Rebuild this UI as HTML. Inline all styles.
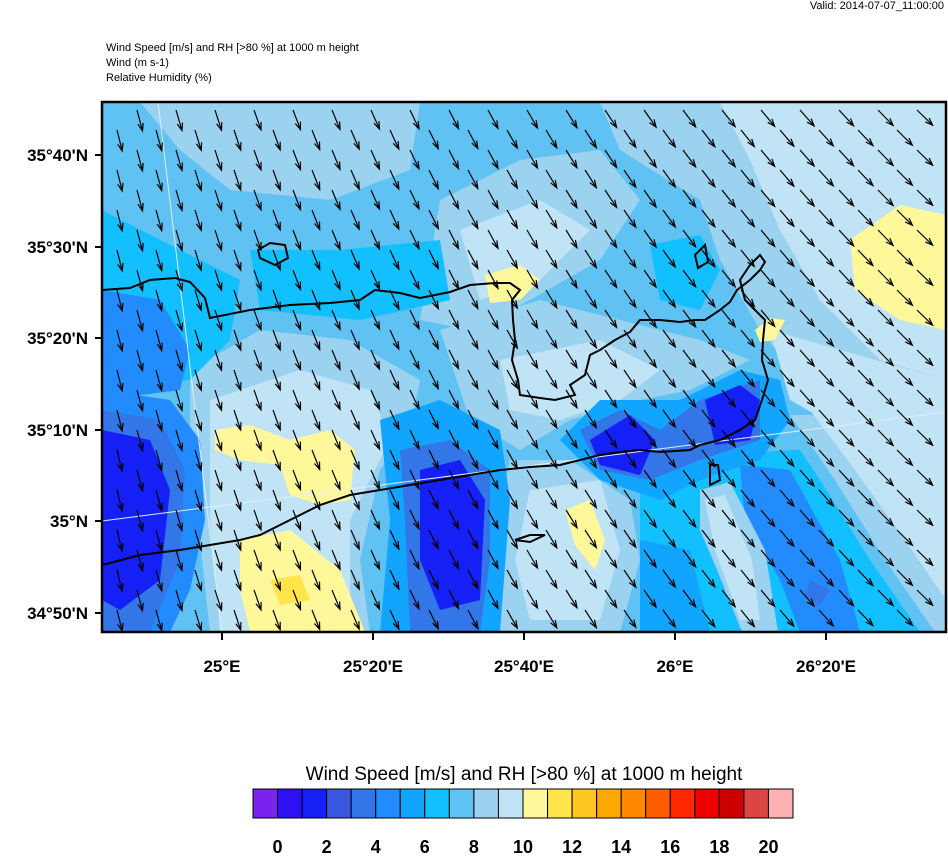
<!DOCTYPE html>
<html><head><meta charset="utf-8"><style>
body{margin:0;background:#fff;}
svg text{font-family:"Liberation Sans",sans-serif;}
</style></head><body>
<svg id="s" width="948" height="854" viewBox="0 0 948 854" xmlns="http://www.w3.org/2000/svg">
<defs><clipPath id="c"><rect x="102" y="102" width="844" height="530"/></clipPath></defs>
<text x="944" y="9" font-size="11" text-anchor="end">Valid: 2014-07-07_11:00:00</text>
<text x="106" y="51" font-size="11">Wind Speed [m/s] and RH [&gt;80 %] at 1000 m height</text>
<text x="106" y="66" font-size="11">Wind   (m s-1)</text>
<text x="106" y="81" font-size="11">Relative Humidity   (%)</text>
<g clip-path="url(#c)">
<rect x="102" y="102" width="844" height="530" fill="#60C2F2"/>
<path d="M140,102 L420,102 L410,170 L330,200 L230,190 L180,150Z" fill="#9BD2F0"/>
<path d="M600,102 L946,102 L946,440 L880,430 L800,380 L760,330 L720,260 L700,200 L620,150Z" fill="#9BD2F0"/>
<path d="M720,102 L946,102 L946,380 L880,360 L820,300 L780,230 L750,160Z" fill="#C0E4F5"/>
<path d="M440,200 L520,160 L600,150 L640,200 L600,260 L530,300 L470,330 L420,320 L430,260Z" fill="#9BD2F0"/>
<path d="M460,230 L540,200 L590,230 L540,280 L480,300Z" fill="#C0E4F5"/>
<path d="M190,370 L260,330 L350,340 L420,380 L410,430 L380,470 L360,560 L370,632 L210,632 L200,540 L190,450Z" fill="#9BD2F0"/>
<path d="M210,400 L300,370 L370,390 L390,440 L350,520 L350,632 L220,632 L210,520Z" fill="#C0E4F5"/>
<path d="M440,330 L540,300 L620,320 L700,340 L750,360 L690,390 L640,400 L570,420 L520,450 L470,420Z" fill="#9BD2F0"/>
<path d="M500,360 L600,340 L660,370 L620,400 L560,420 L510,410Z" fill="#C0E4F5"/>
<path d="M510,460 L570,460 L630,500 L640,560 L620,632 L500,632 L490,560Z" fill="#9BD2F0"/>
<path d="M530,490 L600,480 L620,550 L600,620 L530,620 L515,560Z" fill="#C0E4F5"/>
<path d="M770,330 L946,380 L946,460 L860,440 L790,400Z" fill="#C0E4F5"/>
<path d="M102,210 L180,250 L240,280 L230,340 L190,380 L102,390Z" fill="#12BFFF"/>
<path d="M250,250 L340,250 L440,240 L450,300 L360,320 L260,310Z" fill="#12BFFF"/>
<path d="M650,245 L700,235 L720,270 L700,310 L660,300Z" fill="#12BFFF"/>
<path d="M102,290 L160,300 L190,350 L180,390 L102,400Z" fill="#228CFF"/>
<path d="M102,390 L170,400 L200,440 L205,520 L190,590 L170,632 L102,632Z" fill="#228CFF"/>
<path d="M102,410 L160,420 L185,470 L180,560 L150,632 L102,632Z" fill="#3276E8"/>
<path d="M102,430 L150,440 L170,490 L160,580 L120,610 L102,600Z" fill="#1420F5"/>
<path d="M380,420 L440,400 L500,430 L510,500 L500,632 L380,632 L390,520Z" fill="#12A5FF"/>
<path d="M400,450 L450,440 L490,470 L490,560 L480,632 L410,632 L405,520Z" fill="#3276E8"/>
<path d="M420,470 L460,460 L485,500 L480,600 L440,610 L420,560Z" fill="#1420F5"/>
<!-- bottom right bands -->
<path d="M640,460 L946,440 L946,632 L640,632Z" fill="#12BFFF"/>
<path d="M780,420 L946,420 L946,632 L920,632 L870,560 L820,480Z" fill="#60C2F2"/>
<path d="M790,415 L946,415 L946,632 L935,632 L885,560 L835,480Z" fill="#9BD2F0"/>
<path d="M810,410 L946,410 L946,600 L905,540 L855,470Z" fill="#C0E4F5"/>
<path d="M740,465 L790,470 L840,560 L860,632 L800,632 L780,580 L745,520Z" fill="#228CFF"/>
<path d="M810,580 L830,590 L820,606 L805,596Z" fill="#3276E8"/>
<path d="M640,540 L690,550 L710,632 L640,632Z" fill="#12A5FF"/>
<path d="M700,490 L730,482 L765,550 L778,632 L742,632 L715,565 L700,530Z" fill="#9BD2F0"/>
<path d="M705,500 L725,495 L752,560 L760,620 L740,620 L715,550Z" fill="#C0E4F5"/>
<path d="M560,440 L600,400 L680,400 L740,370 L780,380 L790,420 L760,460 L700,480 L660,500 L600,480Z" fill="#12A5FF"/>
<path d="M580,430 L620,410 L660,430 L700,400 L760,380 L760,440 L700,460 L650,480 L600,470Z" fill="#3276E8"/>
<path d="M590,440 L630,415 L655,440 L640,475 L600,465Z" fill="#1420F5"/>
<path d="M705,400 L740,385 L760,400 L750,440 L715,445Z" fill="#1420F5"/>
<path d="M215,430 L250,425 L290,440 L330,430 L355,450 L350,500 L320,505 L290,495 L280,465 L240,460 L215,450Z" fill="#FFF89A"/>
<path d="M240,540 L290,530 L340,570 L365,632 L250,632 L240,590Z" fill="#FFF89A"/>
<path d="M270,580 L300,575 L310,600 L280,605Z" fill="#FFE44A"/>
<path d="M850,240 L900,205 L946,215 L946,330 L900,320 L855,290Z" fill="#FFF89A"/>
<path d="M565,510 L590,500 L605,540 L595,570 L575,545Z" fill="#FFF89A"/>
<path d="M485,275 L520,265 L540,280 L520,300 L490,303Z" fill="#FFF89A"/>
<path d="M755,330 L770,318 L785,320 L775,340 L760,342Z" fill="#FFF89A"/>
<line x1="158" y1="102" x2="222" y2="632" stroke="#ddeeff" stroke-width="1"/>
<line x1="102" y1="521" x2="946" y2="412" stroke="#ddeeff" stroke-width="1"/>
<g fill="none" stroke="#000" stroke-width="2">
<path d="M102,290 L130,288 L150,280 L175,278 L190,282 L205,298 L210,318 L250,310 L290,305 L330,303 L360,300 L375,290 L400,293 L420,298 L450,292 L470,285 L495,283 L510,283 L520,290 L512,300 L513,320 L515,340 L512,360 L518,380 L520,395 L540,398 L555,400 L575,395 L570,385 L585,375 L590,355 L600,350 L615,340 L630,332 L640,320 L660,320 L680,322 L695,320 L705,320 L720,310 L730,302 L737,290 L750,280 L760,270 L765,262 L760,255 L750,265 L740,280 L745,300 L755,310 L765,320 L763,340 L762,360 L768,380 L762,400 L755,420 L740,430 L720,440 L700,445 L690,450 L660,452 L640,450 L620,452 L600,455 L580,460 L560,465 L530,467 L500,470 L470,475 L440,480 L410,485 L380,490 L350,495 L320,505 L300,515 L280,525 L260,535 L240,540 L210,545 L180,550 L140,555 L102,565"/>
<path d="M258,250 L270,243 L285,245 L288,258 L275,265 L260,258Z"/>
<path d="M695,255 L705,245 L708,262 L698,268Z"/>
<path d="M710,465 L718,465 L720,480 L710,485Z"/>
<path d="M515,540 L530,535 L545,535 L530,542Z"/>
</g>
</g>
<g id="arr" stroke="#000" stroke-width="1.2" fill="none"></g>
<rect x="102" y="102" width="844" height="530" fill="none" stroke="#000" stroke-width="2.5"/>
<g stroke="#000" stroke-width="2">
<line x1="95" y1="155" x2="102" y2="155"/><line x1="95" y1="247" x2="102" y2="247"/><line x1="95" y1="338" x2="102" y2="338"/><line x1="95" y1="430" x2="102" y2="430"/><line x1="95" y1="521" x2="102" y2="521"/><line x1="95" y1="613" x2="102" y2="613"/>
<line x1="222" y1="632" x2="222" y2="640"/><line x1="373" y1="632" x2="373" y2="640"/><line x1="524" y1="632" x2="524" y2="640"/><line x1="675" y1="632" x2="675" y2="640"/><line x1="826" y1="632" x2="826" y2="640"/>
</g>
<g font-size="17" font-weight="bold" text-anchor="end">
<text x="88" y="161">35°40'N</text><text x="88" y="253">35°30'N</text><text x="88" y="344">35°20'N</text><text x="88" y="436">35°10'N</text><text x="88" y="527">35°N</text><text x="88" y="619">34°50'N</text>
</g>
<g font-size="17" font-weight="bold" text-anchor="middle">
<text x="222" y="672">25°E</text><text x="373" y="672">25°20'E</text><text x="524" y="672">25°40'E</text><text x="675" y="672">26°E</text><text x="826" y="672">26°20'E</text>
</g>
<text x="524" y="780" font-size="19" text-anchor="middle">Wind Speed [m/s] and RH [&gt;80 %] at 1000 m height</text>
<g id="cb" stroke="#000" stroke-width="1"></g>
<g id="cbl" font-size="18" font-weight="bold" text-anchor="middle"></g>
</svg>
<script>
var ns="http://www.w3.org/2000/svg";
var cols=["#7B22EE","#2E10F5","#1420F5","#3A55E0","#3276E8","#228CFF","#12A5FF","#12BFFF","#60C2F2","#9BD2F0","#C0E4F5","#FFF89A","#FFE44A","#FFC820","#FFA800","#FF8800","#FF5E00","#FF2800","#EE0000","#CC0000","#DD4444","#FFB0B0"];
var cb=document.getElementById("cb"),w=540/22;
cols.forEach(function(c,i){var r=document.createElementNS(ns,"rect");r.setAttribute("x",253+i*w);r.setAttribute("y",789);r.setAttribute("width",w);r.setAttribute("height",29);r.setAttribute("fill",c);cb.appendChild(r);});
var cbl=document.getElementById("cbl");
for(var k=0;k<=20;k+=2){var t=document.createElementNS(ns,"text");t.setAttribute("x",253+(k+1)*w);t.setAttribute("y",853);t.textContent=k;cbl.appendChild(t);}
var g=document.getElementById("arr"),d="";
for(var r=0;r<27;r++){var y=110+r*20;var off=(r%2)?19:0;
for(var x=98+off;x<946;x+=39){var f=(x-102)/844;var dx=5+f*11,dy=21-f*6;
var ex=x+dx,ey=y+dy;if(ey>632||x<102||ex>946)continue;
var L=Math.sqrt(dx*dx+dy*dy),ux=dx/L,uy=dy/L,h=8;
var a1x=ex-h*(ux*0.94-uy*0.34),a1y=ey-h*(uy*0.94+ux*0.34);
var a2x=ex-h*(ux*0.94+uy*0.34),a2y=ey-h*(uy*0.94-ux*0.34);
d+="M"+x+","+y+"L"+ex.toFixed(1)+","+ey.toFixed(1)+"M"+a1x.toFixed(1)+","+a1y.toFixed(1)+"L"+ex.toFixed(1)+","+ey.toFixed(1)+"L"+a2x.toFixed(1)+","+a2y.toFixed(1);}}
var p=document.createElementNS(ns,"path");p.setAttribute("d",d);g.appendChild(p);
</script>
</body></html>
